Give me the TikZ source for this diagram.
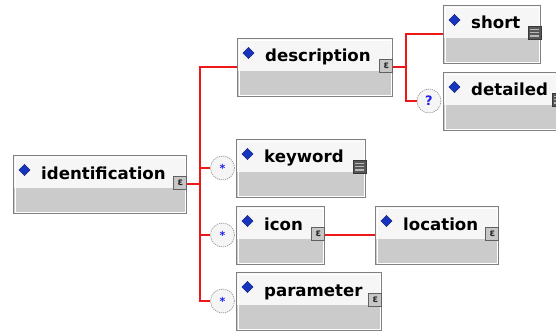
\documentclass[tikz,border=0pt]{standalone}
\usepackage{fontspec}
\setmainfont{DejaVu Sans}
\usetikzlibrary{shapes.geometric}

\definecolor{edge}{RGB}{128,128,128}
\definecolor{toppart}{RGB}{246,246,246}
\definecolor{lowpart}{RGB}{203,203,203}
\definecolor{wire}{RGB}{236,24,24}
\definecolor{gem}{RGB}{22,52,192}
\definecolor{marker}{RGB}{30,30,235}

\tikzset{
  xbox/.style={rectangle, draw=edge, line width=1.3pt, fill=lowpart, inner sep=0pt,
    minimum height=58pt, anchor=north west,
    path picture={
      \fill[toppart] (path picture bounding box.north west) rectangle
        ([yshift=-32pt]path picture bounding box.north east);
      \draw[white, line width=0.9pt]
        ([shift={(1.6pt,-1.6pt)}]path picture bounding box.north west) rectangle
        ([shift={(-1.6pt,1.6pt)}]path picture bounding box.south east);
    }},
  tag/.style={anchor=base west, inner sep=0pt, font=\bfseries\fontsize{16.6}{18}\selectfont},
  gemmark/.style={diamond, fill=gem, draw=gem!55!black, line width=0.4pt, inner sep=0pt,
    minimum width=11.5pt, minimum height=11.5pt},
  cplx/.style={rectangle, draw=black!62, line width=0.9pt, fill=black!22, minimum size=13pt,
    inner sep=0pt, anchor=north east, text=black!85, font=\bfseries\fontsize{10}{10}\selectfont},
  simp/.style={rectangle, draw=black!78, line width=0.6pt, fill=black!66, minimum size=13pt,
    inner sep=0pt, anchor=north east,
    path picture={
      \foreach \k in {-3.3,0,3.3}
        \draw[black!28, line width=1.3pt]
          ([shift={(2.4pt,\k pt)}]path picture bounding box.west) --
          ([shift={(-2.4pt,\k pt)}]path picture bounding box.east);
    }},
  occ/.style={circle, draw=black!45, line width=0.6pt, dash pattern=on 1.2pt off 0.9pt,
    fill=black!4, minimum size=24pt, inner sep=0pt, text=marker,
    font=\bfseries\fontsize{11}{11}\selectfont},
  link/.style={draw=wire, line width=1.2pt},
}

% element box: name, left, top, width, label, icon style, icon glyph
\newcommand\xsdelem[7]{%
  \node[xbox, minimum width=#4pt] (#1) at (#2,#3) {};
  \node[gemmark] (#1-g) at ([xshift=11.5pt,yshift=-15pt]#1.north west) {};
  \node[tag] (#1-t) at ([xshift=28pt,yshift=-24pt]#1.north west) {#5};
  \node[#6] (#1-i) at ([yshift=-21pt]#1.north east) {#7};
  \coordinate (#1-w) at ([yshift=-29pt]#1.north west);
  \coordinate (#1-e) at ([yshift=-29pt]#1.north east);
}

\begin{document}
\begin{tikzpicture}[x=1pt, y=-1pt]
  \useasboundingbox (0,0) rectangle (556,331);

  \xsdelem{ident}{13}{155}{173}{identification}{cplx}{ɛ}
  \xsdelem{desc}{237}{38}{155}{description}{cplx}{ɛ}
  \xsdelem{short}{443}{5}{97}{short}{simp}{}
  \xsdelem{det}{443}{72}{121}{detailed}{simp}{}
  \xsdelem{kw}{236}{139}{129}{keyword}{simp}{}
  \xsdelem{icon}{236}{206}{88}{icon}{cplx}{ɛ}
  \xsdelem{loc}{375}{206}{123}{location}{cplx}{ɛ}
  \xsdelem{par}{236}{272}{145}{parameter}{cplx}{ɛ}

  % occurrence markers
  \node[occ, font=\bfseries\fontsize{13}{13}\selectfont] (det-o) at ([xshift=-14pt]det-w) {?};
  \node[occ] (kw-o) at ([xshift=-13.5pt]kw-w) {\raisebox{-2.5pt}{*}};
  \node[occ] (icon-o) at ([xshift=-13.5pt]icon-w) {\raisebox{-2.5pt}{*}};
  \node[occ] (par-o) at ([xshift=-13.5pt]par-w) {\raisebox{-2.5pt}{*}};

  % sequence spines
  \coordinate (spine) at (200,0);
  \coordinate (fork) at (406,0);

  \draw[link] (ident-e) -- (spine |- ident-e);
  \draw[link] (desc-w) -| (spine |- par-o) -- (par-o.west);
  \draw[link] (spine |- kw-o) -- (kw-o.west);
  \draw[link] (spine |- icon-o) -- (icon-o.west);

  \draw[link] (desc-e) -- (fork |- desc-e);
  \draw[link] (short-w) -| (fork |- det-o) -- (det-o.west);

  \draw[link] (icon-e) -- (loc-w);
\end{tikzpicture}
\end{document}
